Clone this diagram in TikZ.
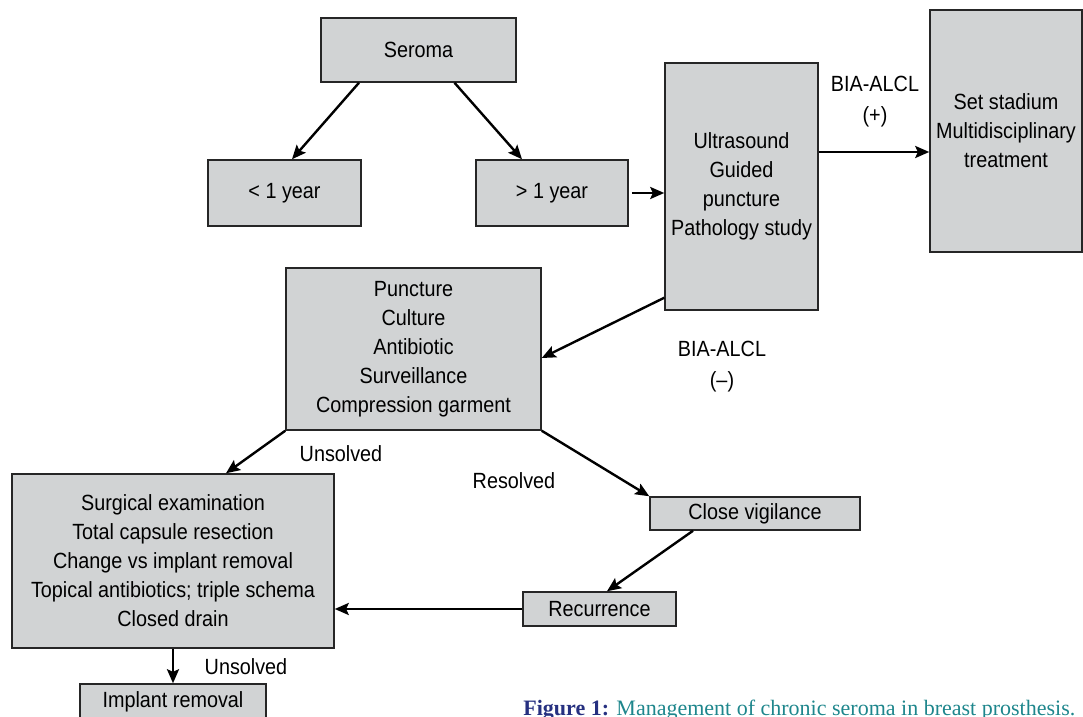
\documentclass[tikz,border=0pt]{standalone}
\usepackage{fontspec}
\setmainfont{Liberation Sans}[FakeStretch=0.9]
\newfontfamily\capfont{Liberation Serif}
\usepackage{tikz}
\usetikzlibrary{arrows.meta,positioning}
\definecolor{boxgray}{RGB}{209,211,212}
\definecolor{capblue}{RGB}{38,48,128}
\definecolor{capteal}{RGB}{30,134,140}

\begin{document}
\begin{tikzpicture}[x=0.5pt,y=-0.5pt,box/.style={draw=black!85,line width=0.75pt,fill=boxgray,align=center,inner sep=0pt,font=\fontsize{11}{14.5}\selectfont},lbl/.style={align=center,inner sep=0pt,font=\fontsize{11}{15.5}\selectfont},arr/.style={-{Stealth[length=7pt,width=6pt,inset=1.3pt]},line width=1.2pt}]
\useasboundingbox (0,0) rectangle (1083,717);
\node[box,minimum width=97.5pt,minimum height=32pt] (seroma) at (418.5,50) {Seroma};
\node[box,minimum width=76.5pt,minimum height=33pt] (less) at (284.5,193) {< 1 year};
\node[box,minimum width=76pt,minimum height=33pt,right=56.75pt of less] (more) {> 1 year};
\node[box,minimum width=76.5pt,minimum height=123.5pt,right=17.75pt of more,yshift=3.25pt] (ultra) {Ultrasound\\Guided\\puncture\\Pathology study};
\node[box,minimum width=76pt,minimum height=121pt,right=55.25pt of ultra,yshift=27.75pt] (stadium) {Set stadium\\Multidisciplinary\\treatment};
\node[box,minimum width=127.5pt,minimum height=81pt] (punct) at (413.5,349) {Puncture\\Culture\\Antibiotic\\Surveillance\\Compression garment};
\node[box,minimum width=161pt,minimum height=87pt] (surg) at (173,561) {Surgical examination\\Total capsule resection\\Change vs implant removal\\Topical antibiotics; triple schema\\Closed drain};
\node[box,minimum width=105pt,minimum height=16.5pt] (vigil) at (755,513.5) {Close vigilance};
\node[box,minimum width=76.5pt,minimum height=17pt] (recur) at (599.5,609) {Recurrence};
\node[box,minimum width=93pt,minimum height=18pt,below=17.25pt of surg] (implant) {Implant removal};
\node[lbl] (plus) at (875,102) {BIA-ALCL\\(+)};
\node[lbl] (minus) at (722,367) {BIA-ALCL\\(\textendash)};
\node[lbl] (unsolvedA) at (341,454) {Unsolved};
\node[lbl] (resolved) at (514,481) {Resolved};
\node[lbl] (unsolvedB) at (246,667) {Unsolved};
\node[anchor=base west,inner sep=0pt,font=\capfont\fontsize{11}{13}\selectfont] (caption) at (523,715) {\textcolor{capblue}{\textbf{Figure 1:}} \textcolor{capteal}{Management of chronic seroma in breast prosthesis.}};
\draw[arr] ([xshift=-29.75pt]seroma.south) -- ([xshift=3.75pt]less.north);
\draw[arr] ([xshift=18pt]seroma.south) -- ([xshift=-15pt]more.north);
\draw[arr,shorten <=1.5pt] (more.east) -- (more.east -| ultra.west);
\draw[arr] ([yshift=17.25pt]ultra.east) -- ([yshift=17.25pt]ultra.east -| stadium.west);
\draw[arr] ([yshift=6.5pt]ultra.south west) -- ([yshift=-4.5pt]punct.east);
\draw[arr] (punct.south west) -- ([xshift=26.5pt]surg.north);
\draw[arr] (punct.south east) -- (vigil.north west);
\draw[arr] ([xshift=-31pt]vigil.south) -- ([xshift=3.75pt]recur.north);
\draw[arr] (recur.west) -- (recur.west -| surg.east);
\draw[arr] (surg.south) -- (implant.north);
\end{tikzpicture}
\end{document}
